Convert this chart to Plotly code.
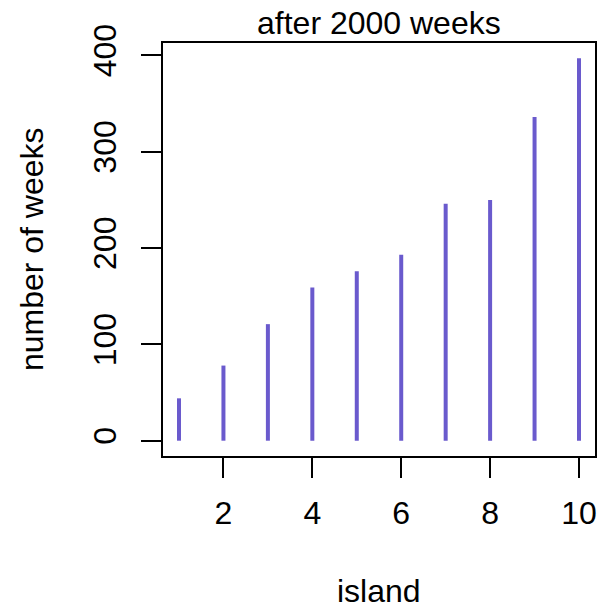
import plotly.graph_objects as go

islands = [1, 2, 3, 4, 5, 6, 7, 8, 9, 10]
weeks = [44, 78, 121, 159, 176, 193, 246, 250, 336, 397]
x_ticks = [2, 4, 6, 8, 10]
y_ticks = [0, 100, 200, 300, 400]

xs, ys = [], []
for i, w in zip(islands, weeks):
    xs += [i, i, None]
    ys += [0, w, None]

FONT = "Liberation Sans, Arial, sans-serif"
W, H = 604, 608
L, R, T, B = 163, 7, 43, 152

fig = go.Figure()
fig.add_trace(go.Scatter(x=xs, y=ys, mode="lines",
                         line=dict(color="#6A5ACD", width=4),
                         hoverinfo="skip", showlegend=False))

pad = 0.04
xr = [min(islands) - pad * (max(islands) - min(islands)), max(islands) + pad * (max(islands) - min(islands))]
ymin, ymax = 0, max(weeks)
yr = [ymin - pad * (ymax - ymin), ymax + pad * (ymax - ymin)]

fig.update_layout(
    width=W, height=H,
    margin=dict(l=L, r=R, t=T, b=B),
    paper_bgcolor="white", plot_bgcolor="white",
    font=dict(family=FONT, color="black"),
    showlegend=False,
)
fig.update_xaxes(range=xr, tickvals=x_ticks, ticktext=[str(v) for v in x_ticks],
                 showgrid=False, zeroline=False, showline=True, mirror=True,
                 linecolor="black", linewidth=2, ticks="outside", ticklen=20,
                 tickwidth=2, tickcolor="black", tickfont=dict(size=32, family=FONT),
                 ticklabelstandoff=8)
fig.update_yaxes(range=yr, tickvals=y_ticks, ticktext=[str(v) for v in y_ticks],
                 showgrid=False, zeroline=False, showline=True, mirror=True,
                 linecolor="black", linewidth=2, ticks="outside", ticklen=20,
                 tickwidth=2, tickcolor="black", tickfont=dict(size=32, family=FONT),
                 tickangle=-90, ticklabelstandoff=12)

ph = H - T - B
pw = W - L - R
fig.add_annotation(text="after 2000 weeks", xref="paper", yref="paper",
                   x=0.5, y=1 + (T - 23) / ph, xanchor="center", yanchor="middle",
                   showarrow=False, font=dict(size=32, family=FONT))
fig.add_annotation(text="island", xref="paper", yref="paper",
                   x=0.5, y=-(591 - (H - B)) / ph, xanchor="center", yanchor="middle",
                   showarrow=False, font=dict(size=32, family=FONT))
fig.add_annotation(text="number of weeks", xref="paper", yref="paper",
                   x=-(L - 31) / pw, y=0.5, xanchor="center", yanchor="middle",
                   textangle=-90, showarrow=False, font=dict(size=32, family=FONT))

fig.write_html("out.html", config={"displayModeBar": False},
               post_script="document.body.style.margin='0px';")
